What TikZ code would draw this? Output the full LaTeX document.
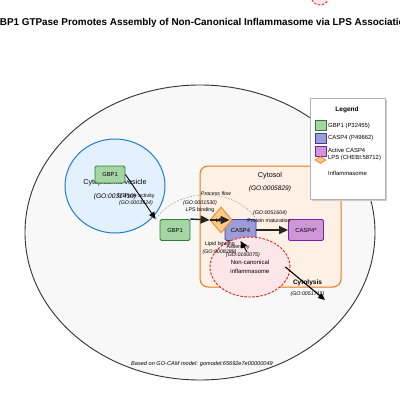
\documentclass[tikz,border=0pt]{standalone}
\usepackage{fontspec}
\setmainfont{Liberation Sans}
\usetikzlibrary{arrows.meta,shapes.geometric,positioning}

\definecolor{cellfill}{HTML}{F8F8F8}
\definecolor{cellline}{HTML}{333333}
\definecolor{vesfill}{HTML}{E3F0FD}
\definecolor{vesline}{HTML}{1E7BD8}
\definecolor{cytofill}{HTML}{FEF0E4}
\definecolor{cytoline}{HTML}{E8780E}
\definecolor{gbpfill}{HTML}{A3D5A5}
\definecolor{gbpline}{HTML}{2E7D32}
\definecolor{caspfill}{HTML}{9C9CD6}
\definecolor{caspline}{HTML}{3A3FA0}
\definecolor{actfill}{HTML}{CE96D6}
\definecolor{actline}{HTML}{7B1FA2}
\definecolor{lpsfill}{HTML}{FDC98A}
\definecolor{lpsline}{HTML}{EE8A2A}
\definecolor{inflfill}{HTML}{FDE6E8}
\definecolor{inflline}{HTML}{E02020}

\begin{document}
\begin{tikzpicture}[x=1pt,
            y=-1pt,
            node distance=65.5pt,
            prot/.style={rectangle, rounded corners=1.5pt, line width=0.9pt,
                         inner sep=0pt, minimum height=21pt,
                         font=\fontsize{5.8}{7}\selectfont},
            gbp/.style={prot, draw=gbpline, fill=gbpfill, minimum width=30pt},
            casp/.style={prot, draw=caspline, fill=caspfill, minimum width=31pt},
            act/.style={prot, draw=actline, fill=actfill, minimum width=35pt},
            lpsbox/.style={diamond, draw=lpsline, fill=lpsfill, line width=0.9pt,
                           inner sep=0pt, minimum width=22pt, minimum height=26pt,
                           font=\fontsize{5.8}{7}\selectfont},
            inflbox/.style={ellipse, draw=inflline, fill=inflfill, line width=0.9pt,
                            dash pattern=on 2.5pt off 1.5pt, inner sep=0pt},
            comp/.style={font=\fontsize{7.2}{8}\selectfont, inner sep=0pt},
            compgo/.style={font=\fontsize{6.6}{8}\selectfont\itshape, inner sep=0pt},
            lbl/.style={font=\fontsize{5.3}{6}\selectfont, inner sep=0pt},
            golbl/.style={font=\fontsize{5.3}{6}\selectfont\itshape, inner sep=0pt},
            heavy/.style={-{Triangle[length=9pt,width=8pt]}, line width=1.4pt, draw=black!85},
            light/.style={-{Triangle[length=7pt,width=6pt]}, line width=0.9pt, draw=black},
            flow/.style={draw=gray!75, dash pattern=on 2pt off 1.5pt, line width=0.5pt},
            legsq/.style={rectangle, line width=0.8pt, inner sep=0pt,
                          minimum width=11pt, minimum height=10pt},
            legtxt/.style={font=\fontsize{5.9}{7}\selectfont, inner sep=0pt, anchor=west}]

        \useasboundingbox (0,0) rectangle (400,400);

        % title and stray legend marker
        \node[font=\fontsize{9.9}{12}\bfseries, inner sep=0pt] (title) at (201.5,22.5)
            {GBP1 GTPase Promotes Assembly of Non-Canonical Inflammasome via LPS Association};
        \node[circle, draw=inflline, fill=inflfill, line width=0.8pt,
              dash pattern=on 2.5pt off 1.5pt, minimum size=18pt] (mark) at (320,-4) {};

        % compartments
        \node[ellipse, draw=cellline, fill=cellfill, line width=0.9pt,
              minimum width=350pt, minimum height=295pt] (cell) at (200,232.5) {};
        \node[ellipse, draw=vesline, fill=vesfill, line width=1pt,
              minimum width=100pt, minimum height=94pt] (ves) at (115,186) {};
        \node[comp]   (vestxt) at (115,183) {Cytoplasmic vesicle};
        \node[compgo] (vesgo)  at (115,197) {(GO:0031410)};
        \node[rectangle, rounded corners=8pt, draw=cytoline, fill=cytofill, line width=1pt,
              minimum width=141pt, minimum height=121pt] (cyto) at (270.5,226.5) {};
        \node[comp]   (cytotxt) at (270,176) {Cytosol};
        \node[compgo] (cytogo)  at (270,189) {(GO:0005829)};

        % proteins and complex
        \node[gbp]     (gbpv)                  at (110,174.5) [minimum height=17pt] {GBP1};
        \node[gbp]     (gbpc)                  at (175,230)   {GBP1};
        \node[casp]    (casp)  [right of=gbpc]                {CASP4};
        \node[act]     (caspa) [right of=casp]                {CASP4*};
        \node[lpsbox]  (lps)                   at (221,220)   {LPS};
        \node[inflbox, minimum width=80pt, minimum height=60pt, align=center,
              font=\fontsize{6}{9.5}\selectfont] (infl) at (250,267) {Non-canonical\\inflammasome};
        \coordinate    (lysis)                 at (325,300);

        \draw[flow] ([xshift=-4pt]gbpc.north west) to[bend left=55] (casp.north east);
        \node[golbl] (flowlbl) at (216,194) {Process flow};

        % edge labels
        \node[lbl]   (gtplbl) at (136,196)   {GTPase activity};
        \node[golbl] (gtpgo)  at (136,203)   {(GO:0003924)};
        \node[golbl] (lpsgo)  at (200,203)   {(GO:0001530)};
        \node[lbl]   (lpslbl) at (200,210.5) {LPS binding};
        \node[golbl] (matgo)  at (270,213)   {(GO:0051604)};
        \node[lbl]   (matlbl) at (269,221)   {Protein maturation};
        \node[lbl]   (liplbl) at (220,244)   {Lipid binding};
        \node[golbl] (lipgo)  at (219.5,252) {(GO:0008289)};
        \node[lbl]   (asmlbl) at (238,247)   {Assembly};
        \node[golbl] (asmgo)  at (243,255)   {(GO:0160075)};
        \node[font=\fontsize{6.5}{8}\bfseries, inner sep=0pt] (lyslbl) at (307.5,283) {Cytolysis};
        \node[golbl] (lysgo)  at (307.5,294) {(GO:0051715)};

        % connectors
        \draw[light] (gbpv.east) -- ([xshift=-4pt]gbpc.north west);
        \draw[heavy] (gbpc.north east) -- (lps.west);
        \draw[heavy] (lps.west) -- ([xshift=5pt]lps.west -| casp.west);
        \draw[heavy] (casp.east) -- (caspa.west);
        \draw[light] ([shift={(-3,-15)}]infl.center) -- (casp.south);
        \draw[light, line width=1.1pt] ([xshift=-5pt]infl.east) -- (lysis);

        \node[font=\fontsize{5.6}{7}\itshape, inner sep=0pt] (foot) at (202,364)
            {Based on GO-CAM model: gomodel:65692e7e00000049};

        % legend
        \fill[black!20] (311.5,99.5) rectangle (386.5,200.5);
        \node[rectangle, draw=black!30, fill=white, line width=0.7pt,
              minimum width=75pt, minimum height=101pt] (legend) at (347.5,148.5) {};
        \node[font=\fontsize{6.5}{8}\bfseries, inner sep=0pt] (legtitle) at (347,110) {Legend};
        \node[legsq, draw=gbpline,  fill=gbpfill]  (leggbp)  at (320.5,125.5) {};
        \node[legsq, draw=caspline, fill=caspfill] (legcasp) at (320.5,138)   {};
        \node[legsq, draw=actline,  fill=actfill]  (legact)  at (320.5,151.5) {};
        \node[diamond, draw=lpsline, fill=lpsfill, line width=0.8pt, inner sep=0pt,
              minimum width=11pt, minimum height=7pt] (leglps) at (320.5,160) {};
        \node[legtxt] (legt1) at (328,126)   {GBP1 (P32455)};
        \node[legtxt] (legt2) at (328,138)   {CASP4 (P49662)};
        \node[legtxt] (legt3) at (328,150.5) {Active CASP4};
        \node[legtxt] (legt4) at (328,157.5) {LPS (CHEBI:58712)};
        \node[legtxt] (legt5) at (328,173)   {Inflammasome};

\end{tikzpicture}
\end{document}
